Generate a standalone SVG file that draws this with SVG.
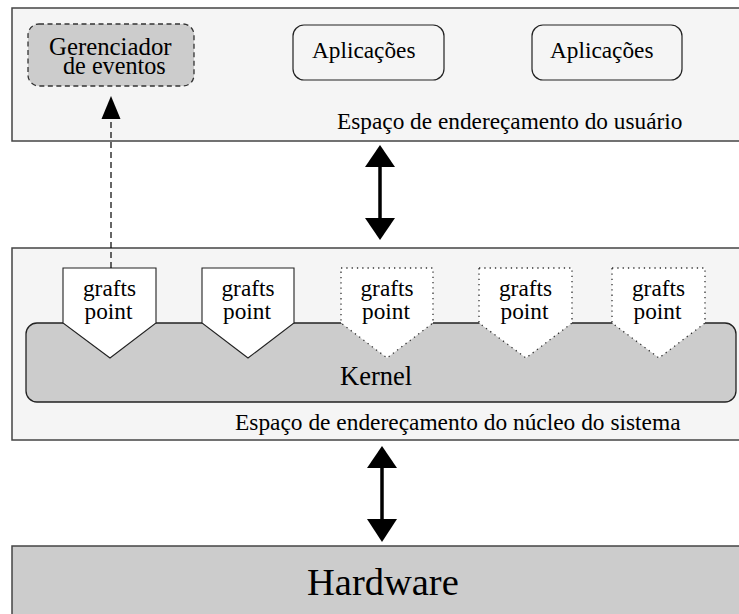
<svg xmlns="http://www.w3.org/2000/svg" width="739" height="614" viewBox="0 0 739 614">
<rect width="739" height="614" fill="#fff"/>

<g id="user-space">
<rect x="12" y="8" width="740" height="133" fill="#f5f5f5" stroke="#444" stroke-width="1.5"/>
<text x="337" y="129" font-family="Liberation Serif" font-size="23.3">Espa&#231;o de endere&#231;amento do usu&#225;rio</text>
</g>

<g id="gerenciador">
<rect x="28" y="24" width="166" height="62" rx="11" fill="#cccccc" stroke="#333" stroke-width="1.3" stroke-dasharray="5 3.5"/>
<text x="49" y="55" font-family="Liberation Serif" font-size="24.8">Gerenciador</text>
<text x="63" y="74" font-family="Liberation Serif" font-size="24.2">de eventos</text>
</g>

<g id="app1">
<rect x="293" y="25" width="151" height="55" rx="11" fill="none" stroke="#222" stroke-width="1.2"/>
<text x="312" y="58" font-family="Liberation Serif" font-size="23.3">Aplica&#231;&#245;es</text>
</g>

<g id="app2">
<rect x="532" y="25" width="150" height="55" rx="11" fill="none" stroke="#222" stroke-width="1.2"/>
<text x="550" y="58" font-family="Liberation Serif" font-size="23.3">Aplica&#231;&#245;es</text>
</g>

<g id="kernel-space">
<rect x="12" y="248" width="740" height="192" fill="#f5f5f5" stroke="#444" stroke-width="1.5"/>
<text x="235" y="430" font-family="Liberation Serif" font-size="23.4">Espa&#231;o de endere&#231;amento do n&#250;cleo do sistema</text>
</g>

<g id="kernel">
<rect x="26" y="323" width="710" height="79" rx="11" fill="#cccccc" stroke="#222" stroke-width="1.3"/>
<text x="340" y="385" font-family="Liberation Serif" font-size="26.5">Kernel</text>
</g>

<g id="gp1">
<polygon points="63,268 156,268 156,323 110,358 63,323" fill="#fff" stroke="#222" stroke-width="1.1"/>
<text x="109.5" y="296" text-anchor="middle" font-family="Liberation Serif" font-size="23.3">grafts</text>
<text x="108.5" y="319" text-anchor="middle" font-family="Liberation Serif" font-size="23.3">point</text>
</g>
<g id="gp2">
<polygon points="202,268 294,268 294,323 248,358 202,323" fill="#fff" stroke="#222" stroke-width="1.1"/>
<text x="248" y="296" text-anchor="middle" font-family="Liberation Serif" font-size="23.3">grafts</text>
<text x="247" y="319" text-anchor="middle" font-family="Liberation Serif" font-size="23.3">point</text>
</g>
<g id="gp3">
<polygon points="341,268 433,268 433,323 387,358 341,323" fill="#fff" stroke="#333" stroke-width="1.3" stroke-dasharray="1.3 4"/>
<text x="387" y="296" text-anchor="middle" font-family="Liberation Serif" font-size="23.3">grafts</text>
<text x="386" y="319" text-anchor="middle" font-family="Liberation Serif" font-size="23.3">point</text>
</g>
<g id="gp4">
<polygon points="479,268 572,268 572,323 526,358 479,323" fill="#fff" stroke="#333" stroke-width="1.3" stroke-dasharray="1.3 4"/>
<text x="525.5" y="296" text-anchor="middle" font-family="Liberation Serif" font-size="23.3">grafts</text>
<text x="524.5" y="319" text-anchor="middle" font-family="Liberation Serif" font-size="23.3">point</text>
</g>
<g id="gp5">
<polygon points="612,268 705,268 705,323 659,358 612,323" fill="#fff" stroke="#333" stroke-width="1.3" stroke-dasharray="1.3 4"/>
<text x="658.5" y="296" text-anchor="middle" font-family="Liberation Serif" font-size="23.3">grafts</text>
<text x="657.5" y="319" text-anchor="middle" font-family="Liberation Serif" font-size="23.3">point</text>
</g>

<g id="hardware">
<rect x="12" y="546" width="740" height="80" fill="#cccccc" stroke="#444" stroke-width="1.5"/>
<text x="307" y="595" font-family="Liberation Serif" font-size="38.5">Hardware</text>
</g>

<g id="connectors">
<line x1="380" y1="166" x2="380" y2="219" stroke="#000" stroke-width="3.5"/>
<polygon points="380,145 365,167 395,167" fill="#000"/>
<polygon points="380,240 365,218 395,218" fill="#000"/>
<line x1="382" y1="467" x2="382" y2="520" stroke="#000" stroke-width="3.5"/>
<polygon points="382,446 367,468 397,468" fill="#000"/>
<polygon points="382,542 367,519 397,519" fill="#000"/>
<line x1="111" y1="268" x2="111" y2="118" stroke="#000" stroke-width="1.2" stroke-dasharray="6 4"/>
<polygon points="111,96 101.5,119 120.5,119" fill="#000"/>
</g>
</svg>
